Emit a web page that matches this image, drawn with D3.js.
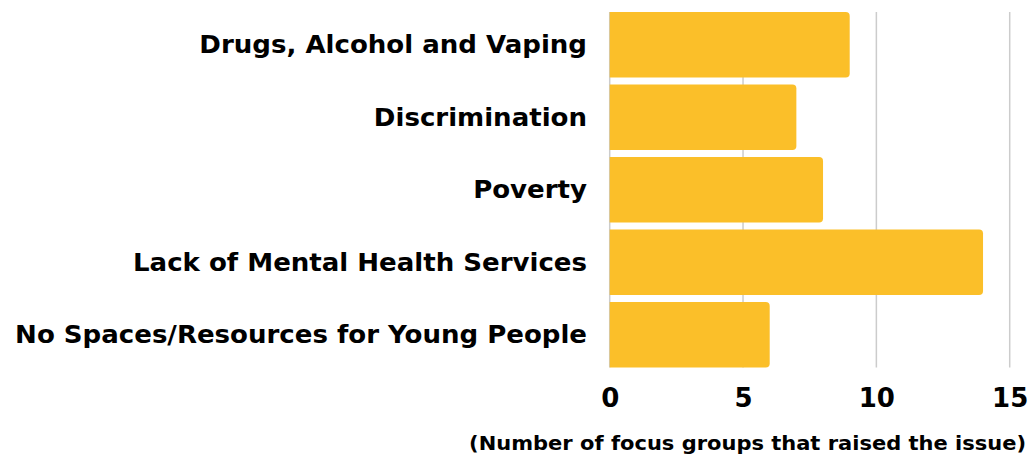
<!DOCTYPE html>
<html>
<head>
<meta charset="utf-8">
<script src="https://cdn.jsdelivr.net/npm/d3@7"></script>
<style>
  html, body { margin: 0; padding: 0; background: #ffffff; }
  svg { display: block; }
</style>
</head>
<body>
<svg id="chart" width="1028" height="459"></svg>
<script>
// Issues raised, top to bottom
const categories = [
  "Drugs, Alcohol and Vaping",
  "Discrimination",
  "Poverty",
  "Lack of Mental Health Services",
  "No Spaces/Resources for Young People"
];
// Number of focus groups that raised each issue
const counts = [9, 7, 8, 14, 6];
const tickValues = [0, 5, 10, 15];
const axisTitle = "(Number of focus groups that raised the issue)";

const svg = d3.select("#chart");
const barColor = "#fbbf29";
const gridColor = "#cccccc";
const labelFont = "'DejaVu Sans', sans-serif";
const widen = 1.085; // horizontal stretch for the extended-looking type

const x = d3.scaleLinear().domain([0, 15]).range([609.7, 1009.7]);
const y = d3.scaleBand()
  .domain(categories)
  .range([12, 367.5])
  .paddingInner(0.0966)
  .paddingOuter(0);

// Vertical gridlines
svg.append("g")
  .selectAll("line")
  .data(tickValues)
  .join("line")
  .attr("x1", d => x(d)).attr("x2", d => x(d))
  .attr("y1", 12).attr("y2", 367.5)
  .attr("stroke", gridColor)
  .attr("stroke-width", 1.5);

// Bars with rounded right corners
const r = 4;
function barPath(v, cat) {
  const x0 = x(0), x1 = x(v), y0 = y(cat), h = y.bandwidth();
  const p = d3.path();
  p.moveTo(x0, y0);
  p.lineTo(x1 - r, y0);
  p.arcTo(x1, y0, x1, y0 + r, r);
  p.lineTo(x1, y0 + h - r);
  p.arcTo(x1, y0 + h, x1 - r, y0 + h, r);
  p.lineTo(x0, y0 + h);
  p.closePath();
  return p.toString();
}
svg.append("g")
  .selectAll("path")
  .data(categories)
  .join("path")
  .attr("d", (c, i) => barPath(counts[i], c))
  .attr("fill", barColor);

// Category labels
svg.append("g")
  .selectAll("text")
  .data(categories)
  .join("text")
  .attr("transform", c => `translate(587,${y(c) + y.bandwidth() / 2}) scale(${widen},1)`)
  .attr("dy", "0.36em")
  .attr("text-anchor", "end")
  .attr("font-family", labelFont)
  .attr("font-weight", "bold")
  .attr("font-size", 24)
  .attr("fill", "#000")
  .text(c => c);

// X axis tick labels
const xAxis = d3.axisBottom(x).tickValues(tickValues).tickSize(0).tickPadding(0);
const gx = svg.append("g")
  .attr("transform", "translate(0,407)")
  .call(xAxis);
gx.select(".domain").remove();
gx.selectAll("text")
  .attr("dy", 0)
  .attr("y", 0)
  .attr("font-family", labelFont)
  .attr("font-weight", "bold")
  .attr("font-size", 26)
  .attr("fill", "#000");

// Axis title
svg.append("text")
  .attr("transform", "translate(1026,450) scale(1.05,1)")
  .attr("text-anchor", "end")
  .attr("font-family", labelFont)
  .attr("font-weight", "bold")
  .attr("font-size", 20)
  .attr("fill", "#000")
  .text(axisTitle);
</script>
</body>
</html>
